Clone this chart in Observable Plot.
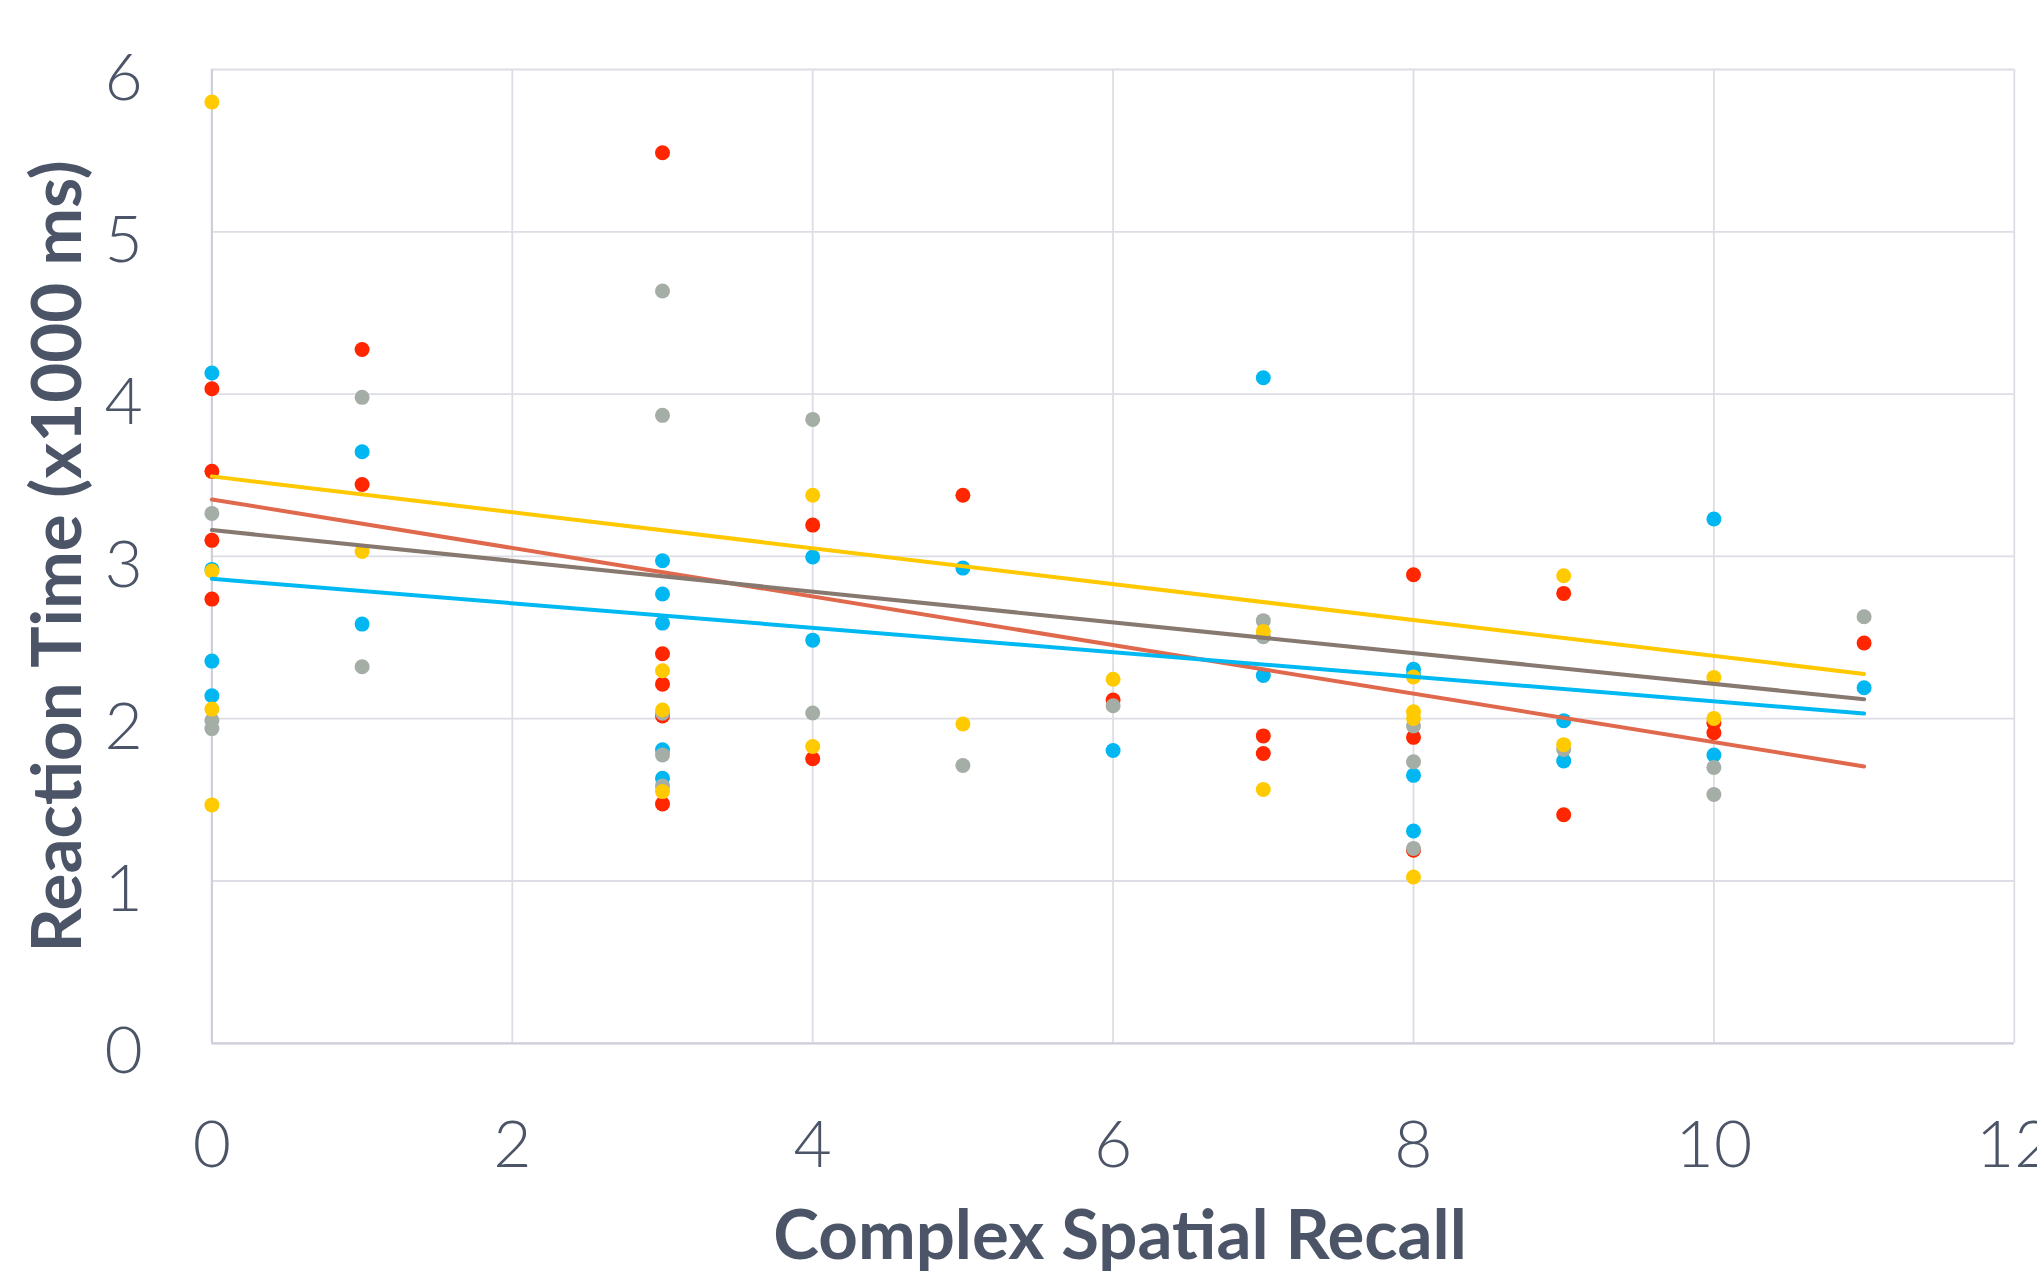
<!DOCTYPE html>
<html>
<head>
<meta charset="utf-8">
<script src="https://cdn.jsdelivr.net/npm/d3@7"></script>
<script src="https://cdn.jsdelivr.net/npm/@observablehq/plot@0.6"></script>
<style>
  html, body { margin: 0; padding: 0; background: #ffffff; }
  #chart svg { display: block; }
</style>
</head>
<body>
<div id="chart"></div>
<script>
// ---- Data ----
const xTicks = [0, 2, 4, 6, 8, 10, 12];
const yTicks = [0, 1, 2, 3, 4, 5, 6];
const xTitle = "Complex Spatial Recall";
const yTitle = "Reaction Time (x1000 ms)";

const blueX = [0,0,0,0, 1,1, 3,3,3,3,3, 4,4, 5, 6, 7,7, 8,8,8,8, 9,9, 10,10, 11];
const blueY = [4.13,2.92,2.355,2.141, 3.645,2.583, 2.973,2.768,2.589,1.808,1.633, 2.996,2.484, 2.928, 1.804, 4.101,2.266, 2.305,2.27,1.651,1.308, 1.988,1.74, 3.23,1.776, 2.191];

const redX = [0,0,0,0, 1,1, 3,3,3,3,3, 4,4, 5, 6, 7,7, 8,8,8, 9,9, 10,10, 11];
const redY = [4.033,3.524,3.099,2.737, 4.275,3.443, 5.487,2.40,2.213,2.017,1.475, 3.193,1.753, 3.377, 2.115, 1.894,1.786, 2.887,1.885,1.19, 2.772,1.408, 1.975,1.913, 2.466];

const grayX = [0,0,0, 1,1, 3,3,3,3,3, 4,4, 5, 6, 7,7, 8,8,8, 9, 10,10, 11];
const grayY = [3.265,1.989,1.939, 3.98,2.32, 4.635,3.869,2.034,1.777,1.586, 3.844,2.035, 1.712, 2.08, 2.604,2.505, 1.955,1.735,1.201, 1.81, 1.70,1.533, 2.628];

const yellowX = [0,0,0,0, 1, 3,3,3, 4,4, 5, 6, 7,7, 8,8,8,8, 9,9, 10,10];
const yellowY = [5.80,2.91,2.059,1.469, 3.03, 2.295,2.054,1.551, 3.377,1.829, 1.967, 2.243, 2.538,1.564, 2.257,2.043,2.002,1.025, 2.881,1.84, 2.254,2.002];

// Trendline end points (x = 0 and x = 11)
const trendX = [0, 11];
const trendBlue = [2.862, 2.032];
const trendRed = [3.351, 1.706];
const trendGray = [3.162, 2.120];
const trendYellow = [3.493, 2.276];

// ---- Build tables ----
const pts = (xs, ys) => xs.map((x, i) => ({x, y: ys[i]}));
const trend = (ys) => trendX.map((x, i) => ({x, y: ys[i]}));

const textColor = "#4b5567";
const gridColor = "#dddde5";
const axisColor = "#cfcfdb";
const R = 7.5;
const LW = 4;

const chart = Plot.plot({
  width: 2037,
  height: 1273,
  marginLeft: 211.4,
  marginRight: 23.2,
  marginTop: 69,
  marginBottom: 230.2,
  style: {fontFamily: "Lato, 'Open Sans', sans-serif", background: "#ffffff", color: textColor},
  x: {domain: [0, 12]},
  y: {domain: [0, 6]},
  marks: [
    Plot.gridX({ticks: xTicks, stroke: gridColor, strokeOpacity: 1, strokeWidth: 1.8}),
    Plot.gridY({ticks: yTicks, stroke: gridColor, strokeOpacity: 1, strokeWidth: 1.8}),
    Plot.ruleX([0], {stroke: axisColor, strokeWidth: 2.2}),
    Plot.ruleY([0], {stroke: axisColor, strokeWidth: 2.2}),
    Plot.axisX({ticks: xTicks, tickFormat: d => String(d), tickSize: 0, tickPadding: 77, fontSize: 66, fontWeight: 300, fill: textColor, label: null}),
    Plot.axisY({ticks: yTicks, tickFormat: d => String(d), tickSize: 0, tickPadding: 69, fontSize: 66, fontWeight: 300, fill: textColor, dy: 9, label: null}),
    Plot.dot(pts(blueX, blueY), {x: "x", y: "y", r: R, fill: "#00b7f1", stroke: "none"}),
    Plot.dot(pts(redX, redY), {x: "x", y: "y", r: R, fill: "#ff2600", stroke: "none"}),
    Plot.dot(pts(grayX, grayY), {x: "x", y: "y", r: R, fill: "#a5aea6", stroke: "none"}),
    Plot.dot(pts(yellowX, yellowY), {x: "x", y: "y", r: R, fill: "#ffca00", stroke: "none"}),
    Plot.line(trend(trendRed), {x: "x", y: "y", stroke: "#e0694d", strokeWidth: LW}),
    Plot.line(trend(trendGray), {x: "x", y: "y", stroke: "#877870", strokeWidth: LW}),
    Plot.line(trend(trendBlue), {x: "x", y: "y", stroke: "#00b9f2", strokeWidth: LW}),
    Plot.line(trend(trendYellow), {x: "x", y: "y", stroke: "#ffc800", strokeWidth: LW}),
    Plot.text([yTitle], {text: d => d, frameAnchor: "left", rotate: -90, dx: -153, textAnchor: "middle", lineAnchor: "middle", fontSize: 69, fontWeight: "bold", fill: textColor}),
    Plot.text([xTitle], {text: d => d, frameAnchor: "bottom", dx: 7, dy: 194, textAnchor: "middle", lineAnchor: "middle", fontSize: 69, fontWeight: "bold", fill: textColor})
  ]
});
document.getElementById("chart").append(chart);
</script>
</body>
</html>
